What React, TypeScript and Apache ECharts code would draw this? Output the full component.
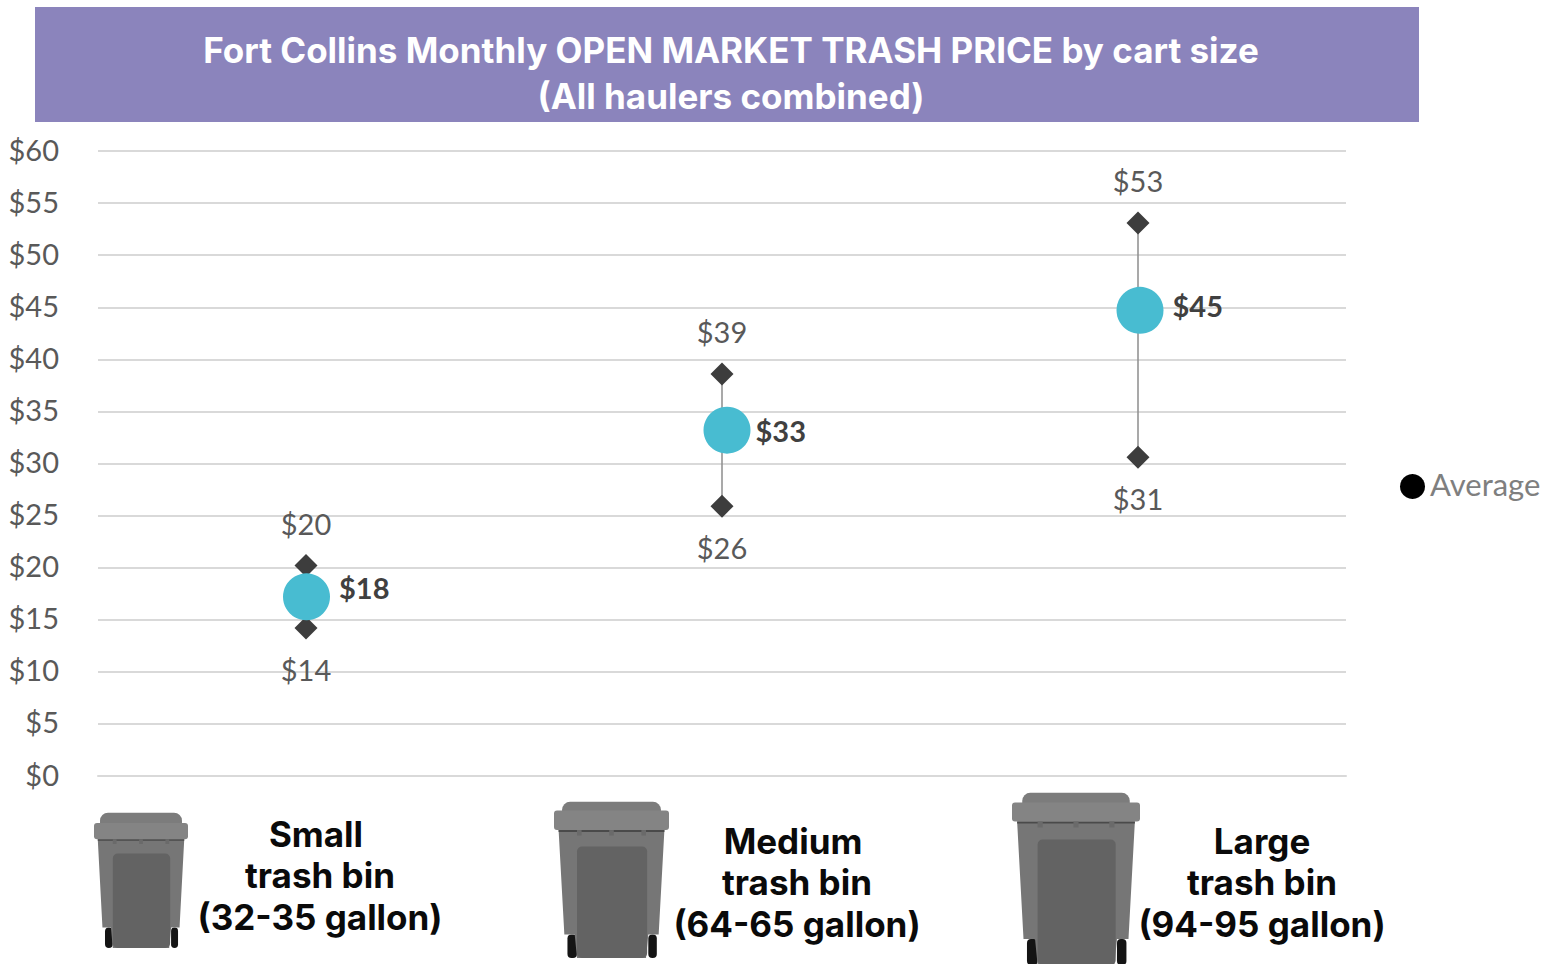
import React, { useEffect, useRef } from "react";
import * as echarts from "echarts";

const sizes = ["Small", "Medium", "Large"];
const yTicks = [0, 60, 5];
const lowValues = [14.2, 25.9, 30.6];
const highValues = [20.2, 38.6, 53.1];
const averageValues = [17.2, 33.2, 44.7];
const lowLabels = ["$14", "$26", "$31"];
const highLabels = ["$20", "$39", "$53"];
const averageLabels = ["$18", "$33", "$45"];
const binTexts = [
  ["Small", "trash bin", "(32-35 gallon)"],
  ["Medium", "trash bin", "(64-65 gallon)"],
  ["Large", "trash bin", "(94-95 gallon)"],
];
const titleLines = ["Fort Collins Monthly OPEN MARKET TRASH PRICE by cart size", "(All haulers combined)"];

const axisFont = "Lato, 'Open Sans', sans-serif";
const headFont = "Inter, 'Noto Sans', sans-serif";

function bin(x: number, y: number, w: number, h: number, bandTop: number, bandBottom: number, lidInset: number): any {
  const X = (f: number) => x + f * w;
  const Y = (f: number) => y + f * h;
  const rect = (a: number, b: number, c: number, d: number, fill: string, r: number | number[] = 0) => ({
    type: "rect",
    shape: { x: X(a), y: Y(b), width: (c - a) * w, height: (d - b) * h, r },
    style: { fill },
  });
  const nub = (f: number) => rect(f - 0.02, bandBottom, f + 0.02, bandBottom + 0.035, "#6a6a6a");
  return {
    type: "group",
    silent: true,
    children: [
      rect(0.117, 0.85, 0.2, 1, "#141414", 4),
      rect(0.82, 0.85, 0.894, 1, "#141414", 4),
      {
        type: "polygon",
        shape: {
          points: [
            [X(0.04), Y(bandBottom)],
            [X(0.96), Y(bandBottom)],
            [X(0.91), Y(0.85)],
            [X(0.82), Y(0.85)],
            [X(0.8), Y(1)],
            [X(0.2), Y(1)],
            [X(0.18), Y(0.85)],
            [X(0.09), Y(0.85)],
          ],
        },
        style: { fill: "#767676" },
      },
      rect(0.2, bandBottom + 0.105, 0.81, 1, "#636363", 5),
      rect(lidInset, 0.005, 1 - lidInset, bandTop + 0.01, "#7c7c7c", [8, 8, 0, 0]),
      rect(0, bandTop, 1, bandBottom, "#848484", 3),
      rect(0.04, bandBottom, 0.96, bandBottom + 0.012, "#4a4a4a"),
      nub(0.22),
      nub(0.5),
      nub(0.78),
    ],
  };
}

function binLabel(cx: number[], cy: number[], lines: string[]): any[] {
  return lines.map((t, i) => ({
    type: "text",
    x: cx[i],
    y: cy[i],
    silent: true,
    style: {
      text: t,
      fill: "#0a0a0a",
      font: `700 35px ${headFont}`,
      textAlign: "center",
      textVerticalAlign: "middle",
    },
  }));
}

export default function App() {
  const ref = useRef<HTMLDivElement>(null);
  useEffect(() => {
    const chart = echarts.init(ref.current!, undefined, { renderer: "svg" });
    const labelStyle = { color: "#595959", fontFamily: axisFont, fontSize: 29 };
    const avgOffsets = [[0.5, 0], [5, 0], [2, 0]];
    const avgLabelOffsets = [[9, -9], [5, 0], [9, -5]];
    chart.setOption({
      animation: false,
      backgroundColor: "#ffffff",
      title: {
        text: titleLines.join("\n"),
        left: 726,
        top: 22,
        textAlign: "center",
        textStyle: { color: "#ffffff", fontFamily: headFont, fontWeight: 700, fontSize: 35, lineHeight: 46 },
      },
      legend: {
        left: 1400,
        top: 468,
        padding: 0,
        itemWidth: 25,
        itemHeight: 25,
        data: [{ name: "Average", icon: "circle", itemStyle: { color: "#000000" } }],
        formatter: (n: string) => `{t|${n}}`,
        textStyle: {
          color: "#7f7f7f",
          fontFamily: axisFont,
          fontSize: 31,
          rich: { t: { color: "#7f7f7f", fontFamily: axisFont, fontSize: 31, padding: [0, 0, 6, 0] } },
        },
      },
      grid: { left: 98, right: 211, top: 151, bottom: 188 },
      xAxis: {
        type: "category",
        data: sizes,
        axisLine: { show: true, lineStyle: { color: "#d9d9d9", width: 2 } },
        axisTick: { show: false },
        axisLabel: { show: false },
      },
      yAxis: {
        type: "value",
        min: yTicks[0],
        max: yTicks[1],
        interval: yTicks[2],
        axisLine: { show: false },
        axisTick: { show: false },
        splitLine: { lineStyle: { color: "#d9d9d9", width: 2 } },
        axisLabel: {
          margin: 39,
          formatter: (v: number) => `{t|$${v}}`,
          ...labelStyle,
          rich: { t: { ...labelStyle, padding: [0, 0, 4, 0] } },
        },
      },
      series: [
        {
          type: "custom",
          name: "Range",
          data: sizes.map((_, i) => [i, lowValues[i], highValues[i]]),
          encode: { x: 0, y: [1, 2] },
          renderItem: (_p: any, api: any) => {
            const a = api.coord([api.value(0), api.value(1)]);
            const b = api.coord([api.value(0), api.value(2)]);
            return {
              type: "line",
              shape: { x1: a[0], y1: a[1], x2: b[0], y2: b[1] },
              style: { stroke: "#8c8c8c", lineWidth: 1.5 },
            };
          },
          z: 2,
        },
        {
          type: "scatter",
          name: "High",
          symbol: "diamond",
          symbolSize: 23,
          itemStyle: { color: "#3d3d3d", opacity: 1 },
          data: highValues.map((v, i) => ({
            value: [i, v],
            label: { formatter: highLabels[i] },
          })),
          label: { show: true, position: "top", distance: 16, ...labelStyle },
          z: 3,
        },
        {
          type: "scatter",
          name: "Low",
          symbol: "diamond",
          symbolSize: 23,
          itemStyle: { color: "#3d3d3d", opacity: 1 },
          data: lowValues.map((v, i) => ({
            value: [i, v],
            label: { formatter: lowLabels[i] },
          })),
          label: { show: true, position: "bottom", distance: 15, ...labelStyle },
          z: 3,
        },
        {
          type: "scatter",
          name: "Average",
          symbol: "circle",
          symbolSize: 47,
          itemStyle: { color: "#48bcd1", opacity: 1 },
          data: averageValues.map((v, i) => ({
            value: [i, v],
            symbolOffset: avgOffsets[i],
            label: { formatter: averageLabels[i], offset: avgLabelOffsets[i] },
          })),
          label: { show: true, position: "right", distance: 0, ...labelStyle, color: "#404040", fontWeight: 700 },
          z: 4,
        },
      ],
      graphic: [
        {
          type: "rect",
          z: -1,
          silent: true,
          shape: { x: 35, y: 7, width: 1384, height: 115 },
          style: { fill: "#8b84bc" },
        },
        bin(94, 812, 94, 136, 0.08, 0.2, 0.064),
        bin(554, 801, 115, 157, 0.06, 0.185, 0.07),
        bin(1012, 792, 128, 173, 0.06, 0.17, 0.08),
        ...binLabel([316, 320, 320], [834, 875, 917], binTexts[0]),
        ...binLabel([793, 797, 797], [841, 882, 924], binTexts[1]),
        ...binLabel([1262, 1262, 1262], [841, 882, 924], binTexts[2]),
      ],
    });
    return () => chart.dispose();
  }, []);
  return <div ref={ref} style={{ position: "fixed", left: 0, top: 0, width: 1557, height: 964 }} />;
}
